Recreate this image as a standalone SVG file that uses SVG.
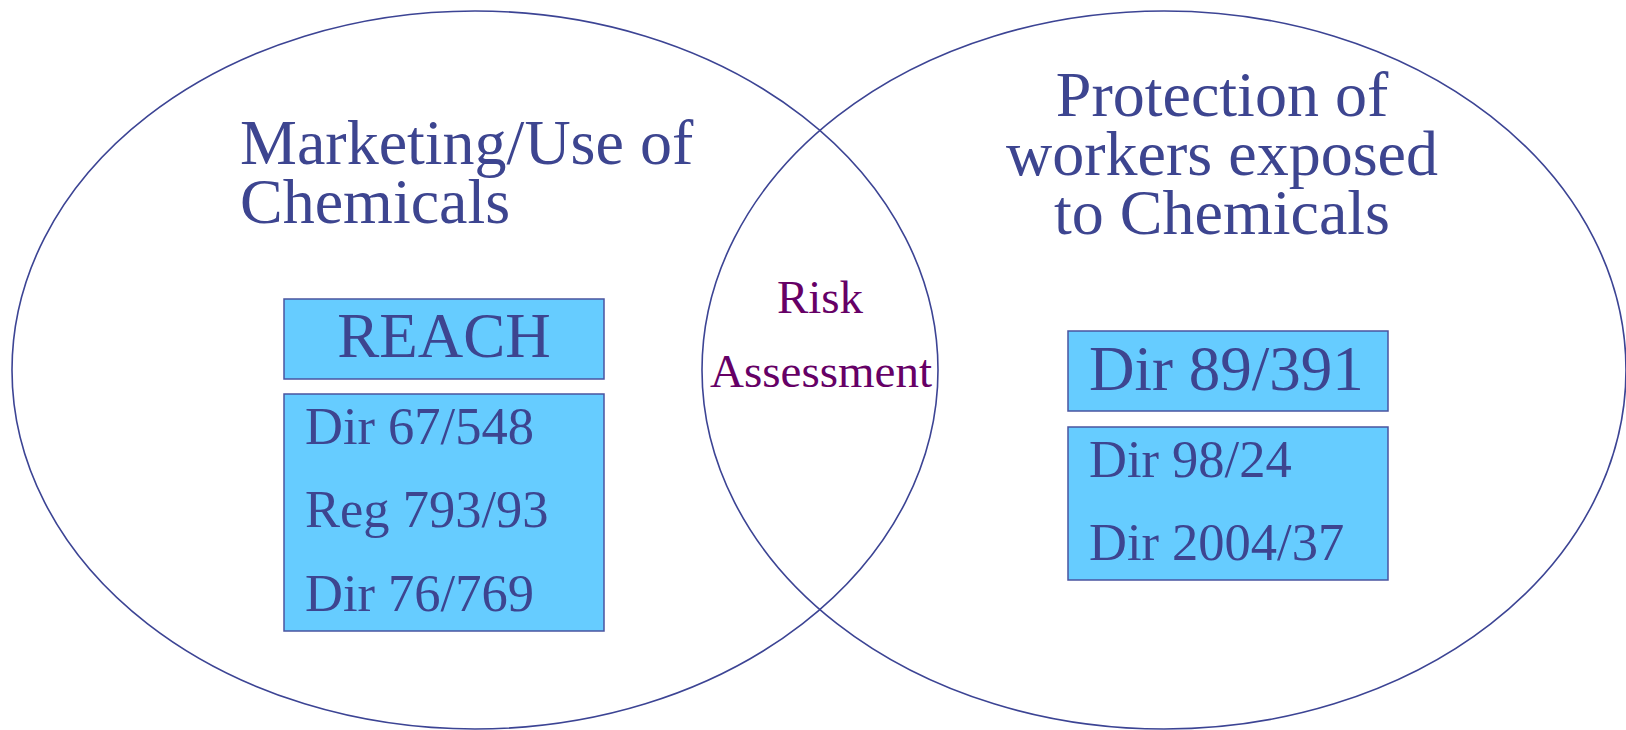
<svg xmlns="http://www.w3.org/2000/svg" width="1626" height="730" viewBox="0 0 1626 730">
<style>
.ell{fill:none;stroke:#3C4494;stroke-width:1.6}
.box{fill:#66CCFF;stroke:#4A54A0;stroke-width:1.5}
text{font-family:"Liberation Serif","Times New Roman",serif;fill:#3D4590}
.title{font-size:64px}
.big{font-size:63px}
.item{font-size:52.5px}
.risk{font-size:47px;fill:#660066}
</style>
<rect width="1626" height="730" fill="#FFFFFF"/>
<g id="left-set">
<ellipse class="ell" cx="475" cy="370" rx="463" ry="359"/>
<text class="title" x="240" y="164">Marketing/Use of</text>
<text class="title" x="240" y="223">Chemicals</text>
</g>
<g id="right-set">
<ellipse class="ell" cx="1164" cy="370" rx="462" ry="359"/>
<text class="title" x="1222" y="116" text-anchor="middle">Protection of</text>
<text class="title" x="1222" y="175" text-anchor="middle">workers exposed</text>
<text class="title" x="1222" y="234" text-anchor="middle">to Chemicals</text>
</g>
<g id="intersection">
<text class="risk" x="820" y="313" text-anchor="middle">Risk</text>
<text class="risk" x="821" y="387" text-anchor="middle">Assessment</text>
</g>
<g id="reach">
<rect class="box" x="284" y="299" width="320" height="80"/>
<text class="big" x="444" y="357" text-anchor="middle">REACH</text>
</g>
<g id="left-list">
<rect class="box" x="284" y="394" width="320" height="237"/>
<text class="item" x="305" y="444">Dir 67/548</text>
<text class="item" x="305" y="527">Reg 793/93</text>
<text class="item" x="305" y="611">Dir 76/769</text>
</g>
<g id="dir89">
<rect class="box" x="1068" y="331" width="320" height="80"/>
<text class="big" x="1089" y="390">Dir 89/391</text>
</g>
<g id="right-list">
<rect class="box" x="1068" y="427" width="320" height="153"/>
<text class="item" x="1089" y="477">Dir 98/24</text>
<text class="item" x="1089" y="560">Dir 2004/37</text>
</g>
<g id="connectors"/>
</svg>
